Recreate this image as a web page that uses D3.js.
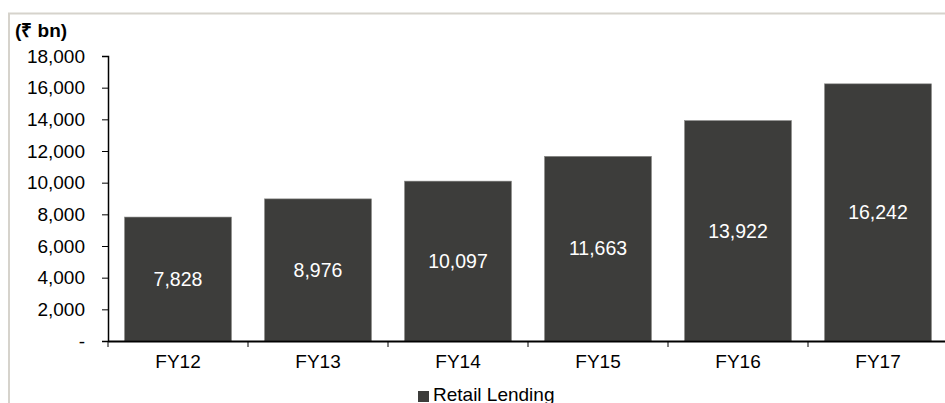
<!DOCTYPE html>
<html>
<head>
<meta charset="utf-8">
<script src="https://cdn.jsdelivr.net/npm/d3@7"></script>
<style>
  body { margin: 0; background: #fff; }
  svg { display: block; font-family: Arial, "Liberation Sans", sans-serif; }
  .axis path, .axis line { stroke: #000; }
</style>
</head>
<body>
<div id="chart"></div>
<script>
// data
var years = ['FY12', 'FY13', 'FY14', 'FY15', 'FY16', 'FY17'];
var retailLending = [7828, 8976, 10097, 11663, 13922, 16242];
var yTicks = [0, 2000, 4000, 6000, 8000, 10000, 12000, 14000, 16000, 18000];
var seriesName = 'Retail Lending';
var unitLabel = '(\u20B9 bn)';

var W = 945, H = 403;
var margin = {top: 56, right: -3, bottom: 62, left: 108};

var svg = d3.select('#chart').append('svg')
    .attr('width', W)
    .attr('height', H);

// outer frame (only top and left edges visible)
svg.append('path')
    .attr('d', 'M9,' + H + 'V13.5H' + W)
    .attr('fill', 'none')
    .attr('stroke', '#d6d3cc')
    .attr('stroke-width', 2);

var x = d3.scaleBand()
    .domain(years)
    .range([margin.left, W - margin.right])
    .paddingInner(0.236)
    .paddingOuter(0.118);

var y = d3.scaleLinear()
    .domain([0, 18000])
    .range([H - margin.bottom, margin.top]);

var fmt = d3.format(',');

// bars
svg.selectAll('rect.bar')
    .data(retailLending)
    .enter().append('rect')
    .attr('class', 'bar')
    .attr('x', function(d, i) { return x(years[i]); })
    .attr('y', function(d) { return y(d); })
    .attr('width', x.bandwidth())
    .attr('height', function(d) { return y(0) - y(d); })
    .attr('fill', '#3d3d3b')
    .attr('stroke', '#8a8a88')
    .attr('stroke-width', 0.6);

// values inside bars
svg.selectAll('text.val')
    .data(retailLending)
    .enter().append('text')
    .attr('class', 'val')
    .attr('x', function(d, i) { return x(years[i]) + x.bandwidth() / 2; })
    .attr('y', function(d) { return (y(d) + y(0)) / 2; })
    .attr('dy', '0.35em')
    .attr('text-anchor', 'middle')
    .attr('fill', '#fff')
    .style('font-size', '19.5px')
    .text(function(d) { return fmt(d); });

// y axis
var yAxis = svg.append('g')
    .attr('class', 'axis')
    .attr('transform', 'translate(' + margin.left + ',0)')
    .call(d3.axisLeft(y)
        .tickValues(yTicks)
        .tickSize(6)
        .tickPadding(17)
        .tickFormat(function(d) { return d === 0 ? '-' : fmt(d); }));
yAxis.select('.domain').attr('stroke-width', 1.5);
yAxis.selectAll('text').style('font-size', '19px').attr('fill', '#000');

// x axis: ticks sit on the band edges
var xAxis = svg.append('g')
    .attr('class', 'axis')
    .attr('transform', 'translate(0,' + y(0) + ')')
    .call(d3.axisBottom(x).tickSize(0).tickPadding(14).tickSizeOuter(0));
xAxis.select('.domain').attr('stroke-width', 2);
xAxis.selectAll('text').style('font-size', '19px').attr('fill', '#000');
xAxis.selectAll('line.edge')
    .data(years)
    .enter().append('line')
    .attr('class', 'edge')
    .attr('x1', function(d) { return x(d) - x.step() * x.paddingInner() / 2; })
    .attr('x2', function(d) { return x(d) - x.step() * x.paddingInner() / 2; })
    .attr('y1', 0)
    .attr('y2', 6)
    .attr('stroke', '#000');

// unit label
svg.append('text')
    .attr('x', 15)
    .attr('y', 37)
    .style('font-size', '19px')
    .style('font-weight', 'bold')
    .text(unitLabel);

// legend
var legend = svg.append('g')
    .attr('transform', 'translate(418,391)');
legend.append('rect')
    .attr('width', 11)
    .attr('height', 11)
    .attr('fill', '#3d3d3b');
legend.append('text')
    .attr('x', 15)
    .attr('y', 10)
    .style('font-size', '19px')
    .text(seriesName);
</script>
</body>
</html>
